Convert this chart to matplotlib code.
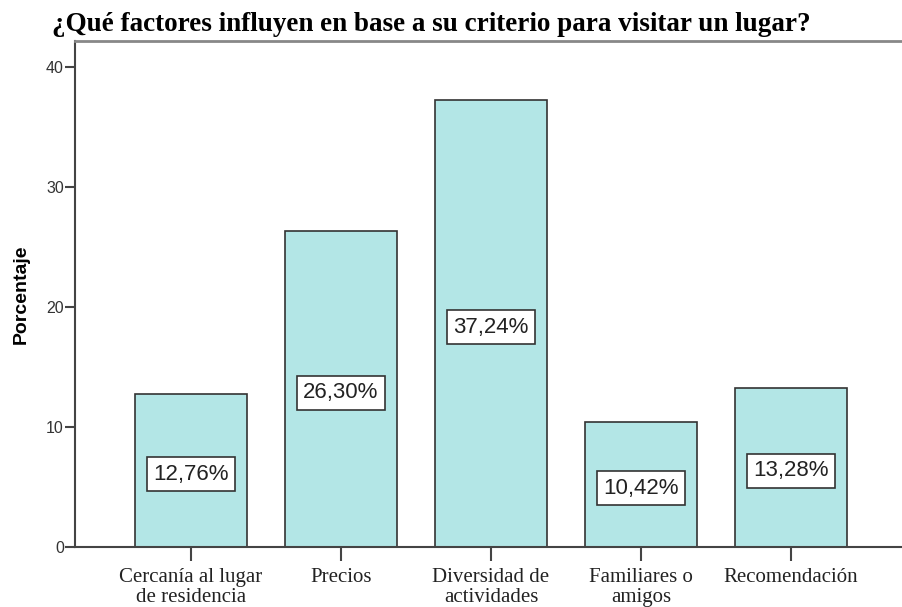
import matplotlib
matplotlib.use("Agg")
import matplotlib.pyplot as plt

# ---------------------------------------------------------------------------
# Data
# ---------------------------------------------------------------------------
categories = [
    "Cercanía al lugar\nde residencia",
    "Precios",
    "Diversidad de\nactividades",
    "Familiares o\namigos",
    "Recomendación",
]
percentages = [12.76, 26.30, 37.24, 10.42, 13.28]
y_ticks = [0, 10, 20, 30, 40]

TITLE = "¿Qué factores influyen en base a su criterio para visitar un lugar?"
BAR_COLOR = "#b3e6e6"

# ---------------------------------------------------------------------------
# Plot
# ---------------------------------------------------------------------------
fig = plt.figure(figsize=(9.02, 6.07), dpi=100)
ax = fig.add_axes([0.0831, 0.0988, 0.9169, 0.8336])

x = list(range(len(categories)))
ax.bar(x, percentages, width=0.747, color=BAR_COLOR,
       edgecolor="#333333", linewidth=1.2, zorder=2)

for xi, v in zip(x, percentages):
    label = f"{v:.2f}%".replace(".", ",")
    ax.text(xi, v / 2 - 0.3, label, ha="center", va="center",
            fontsize=16, family="Liberation Sans", color="#222222",
            bbox=dict(boxstyle="square,pad=0.3", facecolor="white",
                      edgecolor="#333333", linewidth=1.2),
            zorder=3)

ax.set_xlim(-0.773, 4.74)
ax.set_ylim(0, 42.17)
ax.set_xticks(x)
ax.set_xticklabels(categories, family="Liberation Serif", fontsize=15,
                   linespacing=1.1, color="#222222")
ax.set_yticks(y_ticks)
ax.set_yticklabels([str(t) for t in y_ticks], family="Liberation Sans",
                   fontsize=11.5, color="#333333")
ax.tick_params(axis="x", length=10, width=1.5, color="#444444", pad=5)
ax.tick_params(axis="y", length=7, width=1.5, color="#444444", pad=1)

ax.set_ylabel("Porcentaje", family="Liberation Sans", fontweight="bold",
              fontsize=14, labelpad=12)

for side in ["left", "bottom"]:
    ax.spines[side].set_color("#444444")
    ax.spines[side].set_linewidth(1.5)
ax.spines["top"].set_color("#888888")
ax.spines["top"].set_linewidth(2)
ax.spines["right"].set_visible(False)

fig.text(52 / 902, 1 - 31 / 607, TITLE, family="Liberation Serif",
         fontweight="bold", fontsize=19.5, ha="left", va="baseline")

fig.savefig("out.png", dpi=100)
